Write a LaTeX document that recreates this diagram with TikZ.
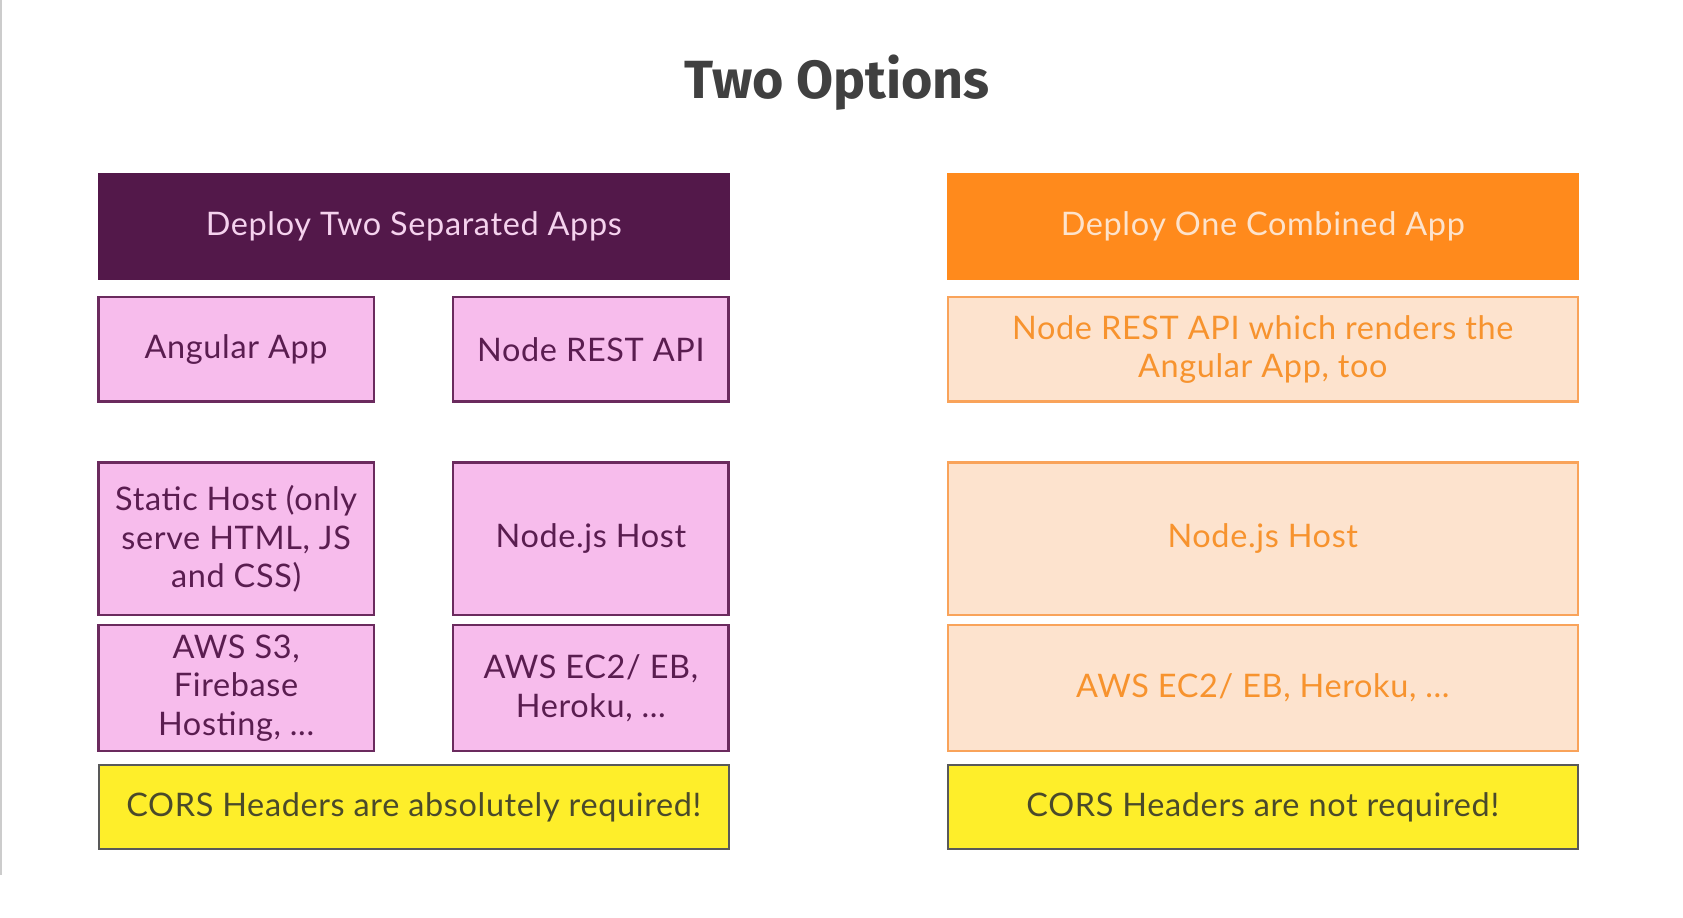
\documentclass[tikz,border=0pt]{standalone}
\usepackage{fontspec}
\setmainfont{Lato}[LetterSpace=2]
\newfontfamily\titlefont{Fira Sans}
\usepackage{tikz}
\definecolor{plum}{HTML}{53184A}
\definecolor{plumtext}{HTML}{F5D2EE}
\definecolor{pinkfill}{HTML}{F7BCEC}
\definecolor{pinkline}{HTML}{6B2A5E}
\definecolor{pinktext}{HTML}{5A1D50}
\definecolor{orangehd}{HTML}{FF8A1C}
\definecolor{orangetext}{HTML}{FDE3CC}
\definecolor{peachfill}{HTML}{FDE3CE}
\definecolor{peachline}{HTML}{F9A35A}
\definecolor{peachtext}{HTML}{F7932E}
\definecolor{yellowfill}{HTML}{FEEE2A}
\definecolor{yellowtext}{HTML}{4A4A2A}

\begin{document}
\begin{tikzpicture}[x=0.02cm,y=-0.02cm,
  txt/.style={font=\fontsize{17.2}{20.4}\selectfont, align=center, inner sep=0pt, line width=1.2pt},
  plumhead/.style={txt, fill=plum, draw=plum, text=plumtext, minimum width=11.74cm, minimum height=1.96cm},
  orangehead/.style={txt, fill=orangehd, draw=orangehd, text=orangetext, minimum width=11.74cm, minimum height=1.96cm},
  pinkbox/.style={txt, fill=pinkfill, draw=pinkline, text=pinktext, minimum width=5.13cm},
  peachbox/.style={txt, fill=peachfill, draw=peachline, text=peachtext, minimum width=11.74cm},
  corsbox/.style={txt, fill=yellowfill, draw=black!65, text=yellowtext, minimum width=11.74cm, minimum height=1.56cm}]
\useasboundingbox (0,0) rectangle (1568,855);
\draw [black!20, line width=1pt] (1,0)--(1,815);

\node [font=\titlefont\bfseries\fontsize{28.5}{32}\selectfont, text=black!75] (title) at (780,77) {Two Options};

% separated apps
\node [plumhead] (sepHead) at (385.5,211) {Deploy Two Separated Apps};
\node [pinkbox, minimum height=1.94cm] (angApp) at (220,325.5) {Angular App};
\node [pinkbox, minimum height=1.94cm] (restApi) at (550.5,325.5) {Node REST API};
\node [pinkbox, minimum height=2.84cm] (staticHost) at (220,502) {Static Host (only\\serve HTML, JS\\and CSS)};
\node [pinkbox, minimum height=2.84cm] (nodeHostL) at (550.5,502) {Node.js Host};
\node [pinkbox, minimum height=2.36cm] (awsSthree) at (220,641) {AWS S3,\\Firebase\\Hosting, ...};
\node [pinkbox, minimum height=2.36cm] (awsEcL) at (550.5,641) {AWS EC2/ EB,\\Heroku, ...};
\node [corsbox] (corsL) at (385.5,752) {CORS Headers are absolutely required!};

% combined app
\node [orangehead] (comHead) at (1176.5,211) {Deploy One Combined App};
\node [peachbox, minimum height=1.94cm] (restAng) at (1176.5,325.5) {Node REST API which renders the\\Angular App, too};
\node [peachbox, minimum height=2.84cm] (nodeHostR) at (1176.5,502) {Node.js Host};
\node [peachbox, minimum height=2.36cm] (awsEcR) at (1176.5,641) {AWS EC2/ EB, Heroku, ...};
\node [corsbox] (corsR) at (1176.5,752) {CORS Headers are not required!};

\end{tikzpicture}
\end{document}
